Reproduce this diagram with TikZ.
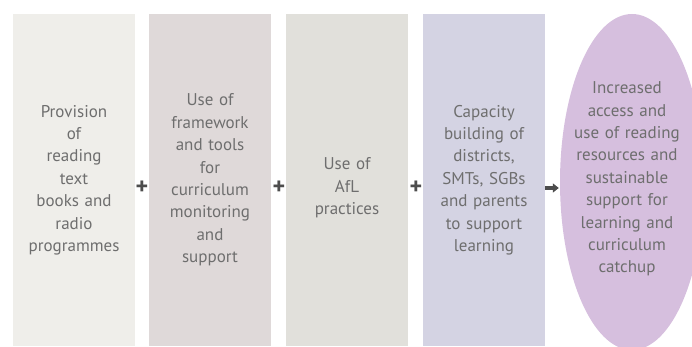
\documentclass[tikz,border=0pt]{standalone}
\usepackage{fontspec}
\setmainfont{PT Sans}
\usetikzlibrary{arrows.meta,shapes.geometric}

\definecolor{provfill}{HTML}{EFEEEA}
\definecolor{framefill}{HTML}{DFD9D9}
\definecolor{aflfill}{HTML}{E1E0DB}
\definecolor{capfill}{HTML}{D4D3E3}
\definecolor{outfill}{HTML}{D6BFDE}
\definecolor{txtgray}{HTML}{6E6E6E}
\definecolor{opgray}{HTML}{4D4D4D}

\begin{document}
\begin{tikzpicture}[x=1pt,y=1pt,
  txt/.style={inner sep=0pt,text width=116pt,align=center,text=txtgray,
    font=\fontsize{17}{22.4}\selectfont},
  col/.style={txt,minimum width=122pt,minimum height=332pt},
  op/.style={text=opgray,inner sep=0pt,font=\fontsize{24}{24}\selectfont\bfseries},
  opline/.style={draw=opgray,line width=3.4pt,-{Triangle[length=6pt,width=9pt]}}]

\useasboundingbox (0,0) rectangle (692,347);

% --- inputs -----------------------------------------------------------
\node[col,fill=provfill] (prov) at (74,167)
  {Provision\\of\\reading\\text\\books and\\radio\\programmes};
\node[col,fill=framefill] (frame) at (210,167)
  {Use of\\framework\\and tools\\for\\curriculum\\monitoring\\and\\support};
\node[col,fill=aflfill] (afl) at (347,167) {};
\node[txt] (afltext) at ([yshift=-8pt]afl.center) {Use of\\AfL\\practices};
\node[col,fill=capfill] (capacity) at (484,167)
  {Capacity\\building of\\districts,\\SMTs, SGBs\\and parents\\to support\\learning};

% --- outcome ----------------------------------------------------------
\node[ellipse,fill=outfill,minimum width=144pt,minimum height=336pt,
  inner sep=0pt] (outcome) at (632,165) {};
\node[txt] (outtext) at ([xshift=-5pt,yshift=3pt]outcome.center)
  {Increased\\access and\\use of reading\\resources and\\sustainable\\support for\\learning and\\curriculum\\catchup};

% --- operators --------------------------------------------------------
\node[op] (plus1) at (142,159) {+};
\node[op] (plus2) at (279,159) {+};
\node[op] (plus3) at (416,159) {+};
\draw[opline] ([yshift=-8pt]capacity.east) -- ([yshift=-8pt,xshift=-1pt]capacity.east -| outcome.west);
\end{tikzpicture}
\end{document}
